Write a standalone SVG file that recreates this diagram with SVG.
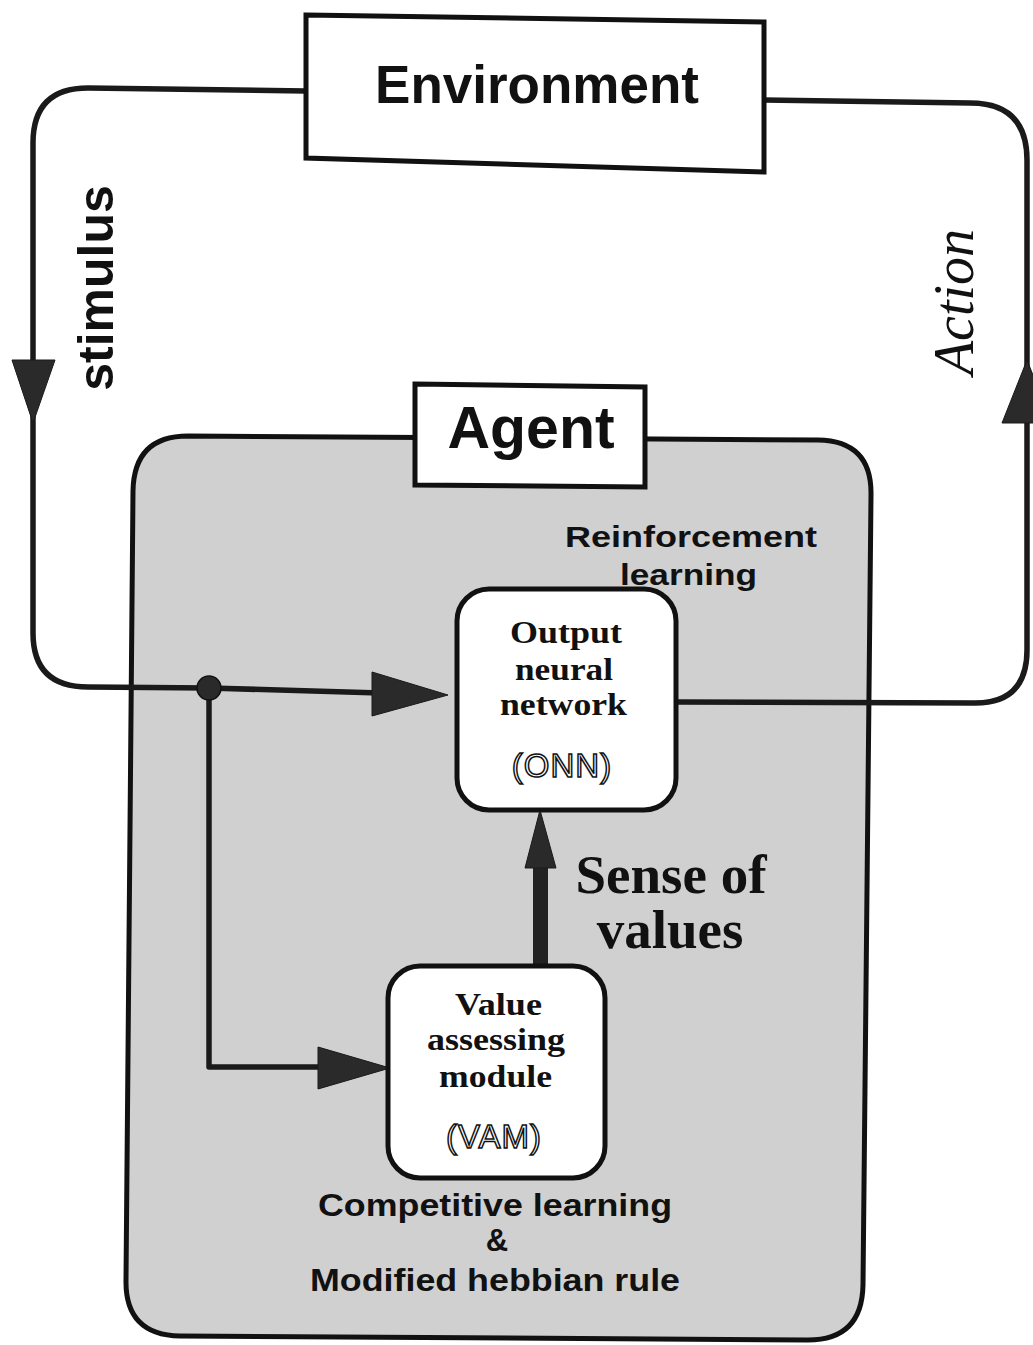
<svg xmlns="http://www.w3.org/2000/svg" width="1033" height="1345" viewBox="0 0 1033 1345">
  <style>
    .frame { fill: #ffffff; stroke: #111111; stroke-width: 5; }
    .wire { fill: none; stroke: #1a1a1a; stroke-width: 5.5; stroke-linejoin: round; }
    .head { fill: #2a2a2a; stroke: #1a1a1a; stroke-width: 1; }
    .sans { font-family: "Liberation Sans", Arial, sans-serif; font-weight: bold; fill: #111111; }
    .serif { font-family: "Liberation Serif", "Times New Roman", serif; font-weight: bold; fill: #111111; }
    .box-text { font-family: "Liberation Serif", "Times New Roman", serif; font-weight: bold; fill: #111111; font-size: 31px; }
    .outline { font-family: "Liberation Sans", Arial, sans-serif; fill: #ffffff; stroke: #111111; stroke-width: 1.5; }
  </style>

  <rect width="1033" height="1345" fill="#ffffff"/>

  <!-- Agent container (grey panel) -->
  <g id="agent-panel">
    <path d="M 188,436 L 818,440 Q 872,441 871,495 L 863,1285 Q 862,1340 808,1340 L 180,1336 Q 125,1335 126,1280 L 133,491 Q 134,436 188,436 Z"
          fill="#d0d0d0" stroke="#111111" stroke-width="5"/>
  </g>

  <!-- Connectors -->
  <g id="connectors">
    <!-- stimulus loop: environment -> junction -->
    <path class="wire" d="M 306,91 L 88,88 Q 33,88 33,143 L 33,633 Q 33,687 88,687 L 209,688"/>
    <polygon class="head" points="12,360 55,360 33,423"/>
    <!-- junction -> ONN -->
    <line class="wire" x1="209" y1="688" x2="380" y2="693"/>
    <polygon class="head" points="372,672 372,716 448,695"/>
    <!-- junction -> VAM -->
    <path class="wire" d="M 209,688 L 209,1067 L 322,1067"/>
    <polygon class="head" points="318,1047 318,1089 390,1068"/>
    <circle cx="209" cy="688" r="12" fill="#2a2a2a" stroke="#111111" stroke-width="1.5"/>
    <!-- action loop: ONN -> environment -->
    <path class="wire" d="M 677,702 L 975,703 Q 1027,703 1027,650 L 1027,160 Q 1027,103 970,103 L 764,100"/>
    <polygon class="head" points="1002,423 1052,423 1027,360"/>
    <!-- sense of values: VAM -> ONN -->
    <rect x="533" y="862" width="15" height="104" fill="#222222"/>
    <polygon class="head" points="525,868 556,868 540,810"/>
  </g>

  <!-- Environment -->
  <g id="environment">
    <polygon class="frame" points="306,15 764,22 764,172 306,158"/>
    <text class="sans" x="537" y="103" font-size="53" text-anchor="middle">Environment</text>
  </g>

  <!-- Agent label -->
  <g id="agent">
    <polygon class="frame" points="415,384 645,387 645,487 415,485"/>
    <text class="sans" x="531" y="448" font-size="59" text-anchor="middle">Agent</text>
  </g>

  <!-- Output neural network -->
  <g id="onn">
    <rect class="frame" x="457" y="589" width="219" height="221" rx="32" stroke-width="4.5"/>
    <text class="box-text" x="510" y="643" textLength="112" lengthAdjust="spacingAndGlyphs">Output</text>
    <text class="box-text" x="515" y="680" textLength="98" lengthAdjust="spacingAndGlyphs">neural</text>
    <text class="box-text" x="500" y="715" textLength="127" lengthAdjust="spacingAndGlyphs">network</text>
    <text class="outline" x="562" y="777" font-size="33" text-anchor="middle" letter-spacing="1">(ONN)</text>
  </g>

  <!-- Value assessing module -->
  <g id="vam">
    <rect class="frame" x="388" y="966" width="217" height="212" rx="32" stroke-width="4.5"/>
    <text class="box-text" x="455" y="1015" textLength="87" lengthAdjust="spacingAndGlyphs">Value</text>
    <text class="box-text" x="427" y="1050" textLength="138" lengthAdjust="spacingAndGlyphs">assessing</text>
    <text class="box-text" x="439" y="1087" textLength="113" lengthAdjust="spacingAndGlyphs">module</text>
    <text class="outline" x="494" y="1148" font-size="33" text-anchor="middle" letter-spacing="1">(VAM)</text>
  </g>

  <!-- Labels -->
  <g id="labels">
    <text class="sans" x="0" y="0" font-size="50" text-anchor="middle" transform="translate(113,288) rotate(-90)">stimulus</text>
    <text x="0" y="0" font-family="'Liberation Serif', 'Times New Roman', serif" font-style="italic" font-size="56" fill="#111111" text-anchor="middle" transform="translate(973,302) rotate(-90)">Action</text>
    <text class="sans" x="565" y="547" font-size="30" textLength="252" lengthAdjust="spacingAndGlyphs">Reinforcement</text>
    <text class="sans" x="620" y="585" font-size="30" textLength="137" lengthAdjust="spacingAndGlyphs">learning</text>
    <text class="serif" x="671" y="893" font-size="55" text-anchor="middle">Sense of</text>
    <text class="serif" x="670" y="948" font-size="55" text-anchor="middle">values</text>
    <text class="sans" x="318" y="1216" font-size="31" textLength="354" lengthAdjust="spacingAndGlyphs">Competitive learning</text>
    <text class="sans" x="497" y="1251" font-size="31" text-anchor="middle">&amp;</text>
    <text class="sans" x="310" y="1291" font-size="31" textLength="370" lengthAdjust="spacingAndGlyphs">Modified hebbian rule</text>
  </g>
</svg>
